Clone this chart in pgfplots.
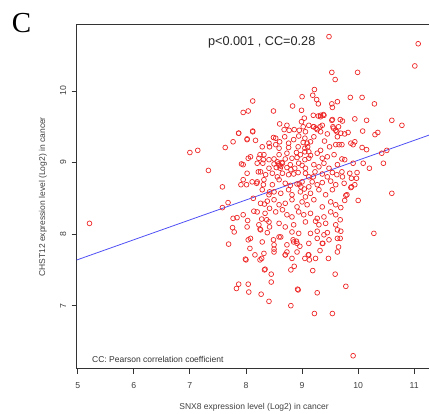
\documentclass[border=0pt]{standalone}
\usepackage{pgfplots}
\pgfplotsset{compat=1.18}
\usepackage{fontspec}
\setmainfont{Liberation Sans}
\newfontfamily\seriffont{Liberation Serif}
\definecolor{ptred}{RGB}{238,40,40}
\definecolor{lnblue}{RGB}{80,80,245}
\begin{document}
\begin{tikzpicture}
\path[use as bounding box] (0,0) rectangle (429pt,414pt);
\node[font=\seriffont\fontsize{29}{31}\selectfont] at (21.5pt,391pt) {C};
\begin{axis}[
  at={(76.7pt,45.3pt)}, anchor=south west,
  scale only axis, width=352.7pt, height=344.7pt,
  xmin=4.982, xmax=11.27, ymin=6.119, ymax=10.936,
  xtick={5,6,7,8,9,10,11}, ytick={7,8,9,10},
  tick align=outside, major tick length=5pt,
  xtick pos=left, ytick pos=left,
  axis line style={black!80, line width=0.8pt},
  tick style={black!80, line width=0.8pt},
  /pgf/number format/assume math mode=true,
  ticklabel style={font=\fontsize{8.7}{10}\selectfont, text=black!75},
  xticklabel style={yshift=-5pt},
  yticklabel style={xshift=-2pt, rotate=90, anchor=south},
  clip=true,
]
\addplot[lnblue, line width=0.8pt] coordinates {(4.982,7.638) (11.27,9.385)};
\addplot[only marks, mark=o, mark size=2.4pt, ptred, mark options={line width=0.7pt}] coordinates {
(5.21,8.15) (7.00,9.14) (7.14,9.17) (7.33,8.89) (7.58,8.66) (7.68,8.44) (7.58,8.37) (7.77,8.22) (7.84,8.23)
(7.76,8.09) (7.79,8.03) (7.69,7.86) (7.95,8.27) (8.03,8.19) (8.02,8.10) (8.13,8.50) (8.14,8.32) (7.91,8.69)
(7.95,8.76) (8.01,8.69) (8.02,8.85) (7.92,8.98) (7.95,8.97) (8.04,9.06) (8.08,9.08) (8.02,9.32) (7.77,9.29)
(7.63,9.21) (7.87,9.41) (8.12,9.43) (8.25,9.11) (8.31,9.04) (8.22,8.87) (8.11,8.73) (8.19,8.71) (8.31,8.69)
(8.42,8.59) (8.33,8.42) (8.42,8.36) (8.28,8.21) (8.37,8.20) (8.25,8.07) (8.42,8.10) (8.04,7.92) (8.08,7.94)
(8.07,7.80) (7.99,7.65) (8.16,7.71) (8.28,7.66) (8.49,7.92) (8.59,7.96) (8.50,7.79) (8.70,7.71) (8.73,7.75)
(8.84,7.92) (8.90,7.90) (8.96,7.83) (9.11,7.71) (9.32,7.77) (9.37,7.87) (9.27,7.94) (9.48,7.92) (9.63,7.94)
(9.65,7.82) (10.28,8.01) (10.60,8.57) (10.45,8.99) (10.42,9.13) (10.51,9.17) (10.20,8.92) (10.09,8.99)
(10.00,8.47) (9.80,8.55) (9.76,8.47) (9.88,8.66) (9.94,8.69) (9.97,8.78) (9.98,8.86) (9.85,8.85) (9.88,8.78)
(9.71,9.05) (9.76,9.04) (9.91,8.99) (9.71,9.25) (9.91,9.25) (9.71,8.87) (9.72,8.80) (9.75,8.71) (9.87,8.65)
(9.78,8.54) (9.69,8.37) (9.68,8.20) (9.69,8.04) (9.68,7.94)
(7.83,7.24) (7.87,7.30) (8.04,7.30) (8.05,7.19) (8.27,7.16) (8.41,7.06) (8.45,7.44) (8.45,7.33) (8.33,7.50)
(8.80,7.00) (8.92,7.23) (8.93,7.22) (9.22,6.89) (9.27,7.18) (9.54,6.89) (9.59,7.44) (9.78,7.27) (9.19,7.49)
(8.80,7.50) (8.86,7.55) (9.91,6.30) (8.00,7.64) (8.25,7.64) (9.13,7.64) (9.05,7.66) (8.34,7.51)
(9.48,10.76) (11.07,10.66) (11.01,10.35) (9.53,10.26) (9.59,10.16) (9.99,10.26) (9.22,10.02) (9.19,9.94)
(9.26,9.88) (9.29,9.82) (9.00,9.92) (8.12,9.86) (8.04,9.72) (7.95,9.70) (8.49,9.72) (8.83,9.79) (8.99,9.73)
(9.53,9.82) (9.63,9.85) (9.54,9.77) (9.86,9.91) (10.07,9.91) (10.29,9.82) (9.04,9.62) (9.20,9.66) (9.29,9.65)
(9.33,9.66) (9.38,9.67) (9.53,9.59) (9.72,9.58) (9.94,9.61) (10.15,9.59) (10.60,9.59) (10.78,9.52) (8.60,9.54)
(8.73,9.52) (8.68,9.46) (8.77,9.45) (8.86,9.46) (8.95,9.45) (8.99,9.57) (9.02,9.50) (9.20,9.50) (9.25,9.48)
(9.32,9.50) (9.56,9.48) (9.65,9.50) (9.62,9.43) (9.69,9.41) (9.76,9.40) (9.82,9.42) (10.08,9.44) (10.35,9.42)
(10.30,9.39) (8.12,9.44) (7.87,9.41) (8.02,9.33) (8.49,9.35) (9.87,9.27) (9.94,9.29) (10.07,9.21) (10.15,9.18)
(8.53,9.34) (8.60,9.29) (8.69,9.36) (8.76,9.27) (8.85,9.32) (8.94,9.37) (9.05,9.34) (9.09,9.27) (9.15,9.29)
(9.21,9.36) (9.27,9.46) (9.33,9.43) (9.36,9.52) (9.21,9.50) (9.12,9.52) (9.06,9.43) (9.54,9.60) (9.55,9.50)
(9.60,9.45) (9.63,9.36) (9.66,9.25) (9.68,9.60) (8.53,9.25) (8.41,9.27) (8.29,9.22)
(8.17,9.31) (9.39,9.66) (9.33,9.64)
(8.42,9.22) (8.59,9.20) (8.76,9.21) (8.93,9.22) (9.05,9.20) (9.12,9.15) (9.33,9.17) (9.49,9.22) (9.60,9.25)
(8.23,9.06) (8.32,9.11) (8.41,9.04) (8.50,9.05) (8.59,9.11) (8.73,9.13) (8.82,9.06) (8.91,9.07) (8.97,9.11)
(9.05,9.04) (9.12,9.06) (9.27,9.13) (9.36,9.06) (9.45,9.08) (9.57,9.11)
(8.20,8.99) (8.30,8.99) (8.41,8.92) (8.50,8.98) (8.54,8.93) (8.59,8.96) (8.65,8.99) (8.73,8.93) (8.79,8.97)
(8.87,8.92) (8.94,8.99) (9.00,8.96) (9.06,8.92) (9.21,8.97) (9.30,8.94) (9.39,8.99) (9.48,8.92) (9.63,8.97)
(8.26,8.87) (8.35,8.83) (8.47,8.85) (8.56,8.80) (8.65,8.85) (8.76,8.83) (8.85,8.84) (8.93,8.86) (9.06,8.85)
(9.12,8.80) (9.23,8.87) (9.36,8.84) (9.45,8.80) (9.54,8.86) (9.62,8.83)
(8.20,8.73) (8.32,8.76) (8.47,8.69) (8.59,8.76) (8.70,8.71) (8.79,8.68) (8.91,8.70) (9.00,8.73) (9.12,8.66)
(9.18,8.73) (9.27,8.69) (9.36,8.72) (9.51,8.74) (9.60,8.69)
(8.29,8.62) (8.41,8.55) (8.50,8.59) (8.62,8.57) (8.76,8.62) (8.82,8.55) (8.97,8.59) (9.06,8.52) (9.15,8.57)
(9.30,8.62) (9.42,8.55) (9.54,8.62)
(8.26,8.43) (8.38,8.46) (8.50,8.48) (8.59,8.41) (8.70,8.43) (8.82,8.48) (8.91,8.38) (9.00,8.45) (9.09,8.41)
(9.21,8.48) (9.36,8.38) (9.51,8.45) (9.60,8.41)
(8.20,8.31) (8.34,8.29) (8.53,8.31) (8.65,8.34) (8.73,8.27) (8.82,8.24) (8.94,8.31) (9.03,8.27) (9.15,8.29)
(9.27,8.22) (9.39,8.24) (9.51,8.31) (9.60,8.27)
(8.23,8.13) (8.41,8.17) (8.59,8.15) (8.70,8.10) (8.85,8.13) (9.06,8.17) (9.24,8.18) (9.30,8.13) (9.42,8.15)
(9.60,8.13)
(8.26,8.06) (8.38,8.02) (8.62,7.96) (8.82,8.03) (8.94,8.01) (9.15,8.01) (9.27,8.04) (9.39,7.99) (9.45,8.02)
(9.63,8.06)
(8.29,7.89) (8.50,7.85) (8.73,7.85) (8.85,7.89) (8.91,7.87) (9.12,7.87) (9.36,7.87)
(8.32,7.73) (8.50,7.75) (8.70,7.71) (8.82,7.66) (8.91,7.75) (9.12,7.71) (9.24,7.66) (9.47,7.66) (9.63,7.75)
(8.58,8.98) (8.62,8.95) (8.56,9.01) (8.64,9.00) (8.61,8.92) (9.05,9.15) (9.10,9.22) (9.02,9.28) (8.98,8.66)
(9.04,8.63) (8.95,8.70) (9.15,9.10) (8.90,9.14) (9.40,9.30) (9.45,9.40) (8.70,9.05) (8.80,8.90) (9.20,8.80)
};
\node[font=\fontsize{12.7}{14}\selectfont, text=black!85] at (axis cs:8.28,10.68) {p<0.001 , CC=0.28};
\node[font=\fontsize{8.5}{10}\selectfont, text=black!80, anchor=west, inner sep=0pt] at (axis cs:5.255,6.255) {CC: Pearson correlation coefficient};
\end{axis}
\node[font=\fontsize{8.5}{10}\selectfont, text=black!75] at (254pt,7pt) {SNX8 expression level (Log2) in cancer};
\node[font=\fontsize{8.5}{10}\selectfont, text=black!75, rotate=90] at (43pt,217pt) {CHST12 expression level (Log2) in cancer};
\end{tikzpicture}
\end{document}
